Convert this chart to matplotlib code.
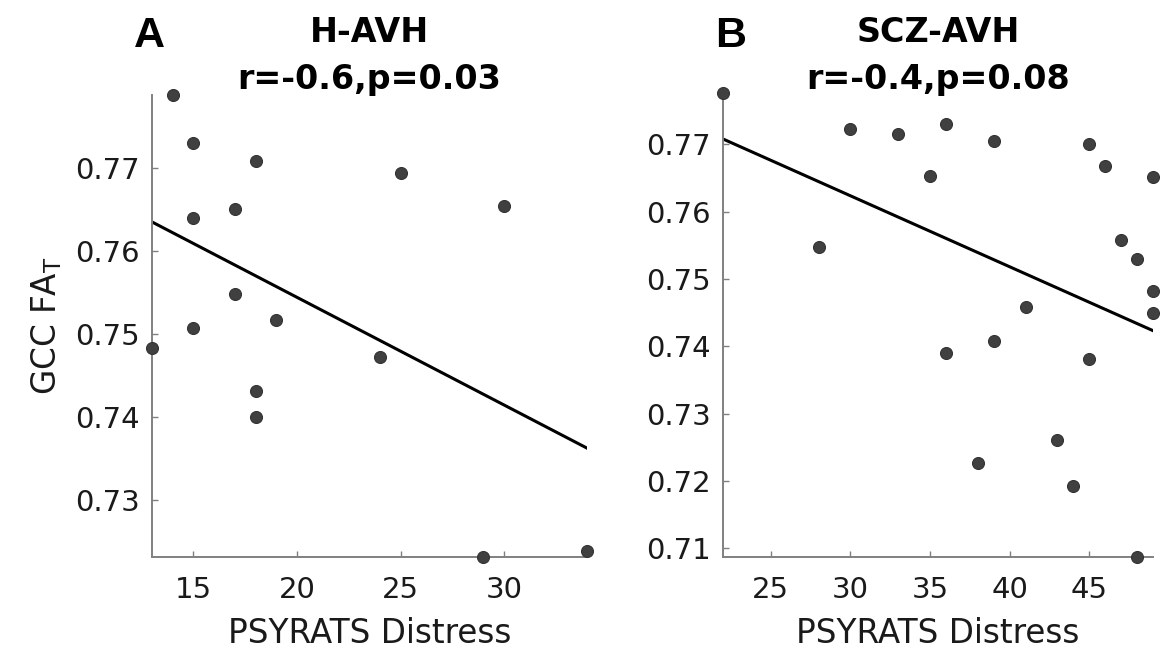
import numpy as np
import matplotlib
matplotlib.use("Agg")
import matplotlib.pyplot as plt

# ---- data ----
xA = [14, 15, 18, 25, 30, 17, 15, 17, 19, 15, 13, 24, 18, 18, 29, 34]
yA = [0.7788, 0.7730, 0.7708, 0.7694, 0.7655, 0.7651, 0.7640, 0.7548,
      0.7517, 0.7508, 0.7483, 0.7473, 0.7432, 0.7401, 0.7232, 0.7239]

xB = [22, 30, 33, 36, 39, 45, 46, 35, 49, 28, 47, 48, 49, 41, 49, 39,
      36, 45, 38, 43, 44, 48]
yB = [0.7776, 0.7723, 0.7715, 0.7730, 0.7705, 0.7701, 0.7668, 0.7653,
      0.7651, 0.7548, 0.7557, 0.7529, 0.7482, 0.7458, 0.7449, 0.7407,
      0.7390, 0.7381, 0.7227, 0.7260, 0.7193, 0.7087]

xticksA = [15, 20, 25, 30]
yticksA = [0.73, 0.74, 0.75, 0.76, 0.77]
xticksB = [25, 30, 35, 40, 45]
yticksB = [0.71, 0.72, 0.73, 0.74, 0.75, 0.76, 0.77]

titlesA = ["H-AVH", "r=-0.6,p=0.03"]
titlesB = ["SCZ-AVH", "r=-0.4,p=0.08"]
panel_labels = ["A", "B"]
xlabel = "PSYRATS Distress"
ylabel = r"GCC FA$_\mathrm{T}$"

plt.rcParams['font.family'] = ['DejaVu Sans']
plt.rcParams['mathtext.fontset'] = 'dejavusans'

W, H = 1166, 652
fig = plt.figure(figsize=(W / 100, H / 100), dpi=100)

def px_axes(l, r, t, b):
    return fig.add_axes([l / W, 1 - b / H, (r - l) / W, (b - t) / H])

axA = px_axes(152, 587, 95, 557)
axB = px_axes(723, 1153, 93, 557)

spine_col = '#808080'
dot_col = '#404040'

def draw(ax, x, y, xt, yt, titles, lab, lab_x, show_ylabel):
    x = np.asarray(x, float)
    y = np.asarray(y, float)
    ax.plot(x, y, 'o', ms=8.6, mfc=dot_col, mec='#333333', mew=0.8,
            clip_on=False, zorder=3)
    k, c = np.polyfit(x, y, 1)
    xl = np.array([x.min(), x.max()])
    ax.plot(xl, k * xl + c, '-', color='black', lw=2.2, zorder=2)
    ax.set_xlim(x.min(), x.max())
    ax.set_ylim(y.min(), y.max())
    ax.set_xticks(xt)
    ax.set_xticklabels([str(v) for v in xt])
    ax.set_yticks(yt)
    ax.set_yticklabels(["%.2f" % v for v in yt])
    for s in ['top', 'right']:
        ax.spines[s].set_visible(False)
    for s in ['left', 'bottom']:
        ax.spines[s].set_color(spine_col)
        ax.spines[s].set_linewidth(1.4)
    ax.tick_params(axis='both', direction='in', length=4, width=1,
                   color=spine_col, labelsize=21, labelcolor='#1a1a1a')
    ax.tick_params(axis='x', pad=14)
    ax.tick_params(axis='y', pad=9)
    ax.set_xlabel(xlabel, fontsize=23.5, color='#1a1a1a', labelpad=9)
    if show_ylabel:
        ax.set_ylabel(ylabel, fontsize=23.5, color='#1a1a1a', labelpad=8)
    bb = ax.get_position()
    cx = (bb.x0 + bb.x1) / 2
    fig.text(cx, 1 - 42 / H, titles[0], ha='center', va='baseline',
             fontsize=24, fontweight='bold')
    fig.text(cx, 1 - 89 / H, titles[1], ha='center', va='baseline',
             fontsize=24, fontweight='bold')
    fig.text(lab_x / W, 1 - 47 / H, lab, ha='left', va='baseline',
             fontsize=31, fontweight='bold', family='Liberation Sans')

draw(axA, xA, yA, xticksA, yticksA, titlesA, panel_labels[0], 134, True)
draw(axB, xB, yB, xticksB, yticksB, titlesB, panel_labels[1], 715, False)

fig.savefig("out.png", dpi=100, facecolor='white')
